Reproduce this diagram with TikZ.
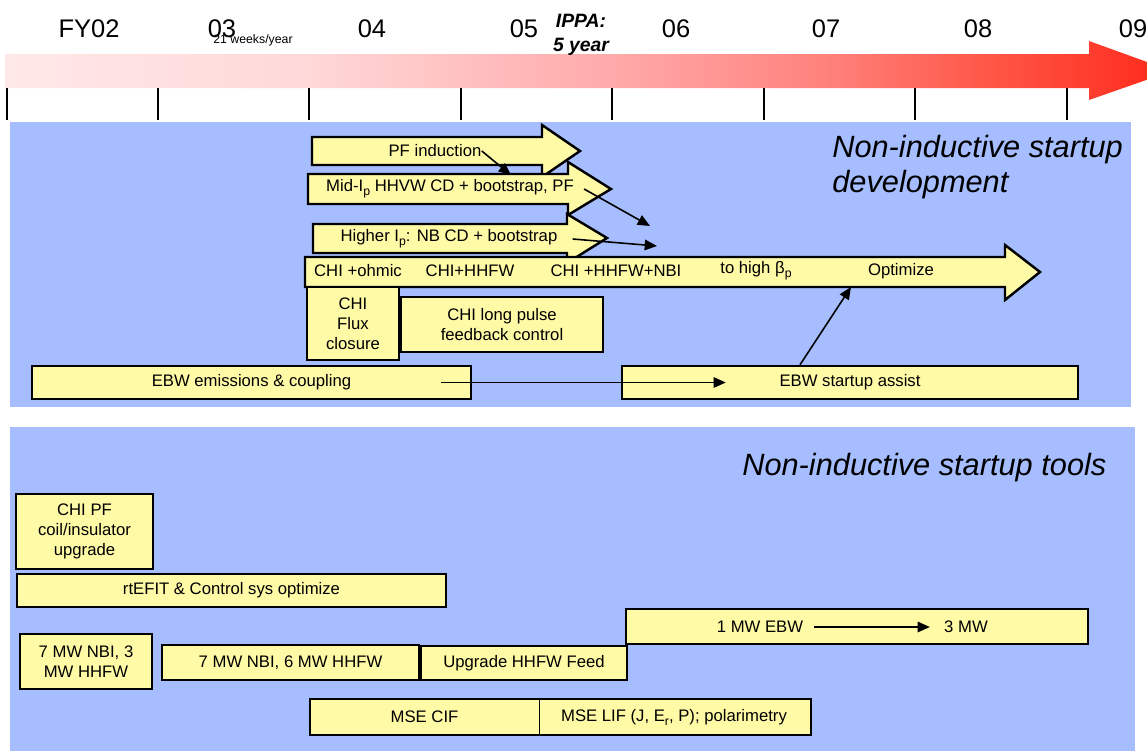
\documentclass[tikz,border=0pt]{standalone}
\usepackage{fontspec}
\setmainfont{Liberation Sans}
\usetikzlibrary{arrows.meta,positioning}
\definecolor{panelblue}{RGB}{166,190,255}
\definecolor{taskyellow}{RGB}{255,250,166}
\definecolor{tlA}{RGB}{255,232,232}
\definecolor{tlB}{RGB}{255,216,216}
\definecolor{tlC}{RGB}{255,170,170}
\definecolor{tlD}{RGB}{255,128,122}
\definecolor{tlE}{RGB}{255,88,72}
\definecolor{tlF}{RGB}{255,40,25}
\pgfdeclarehorizontalshading{timeline}{100bp}{color(0bp)=(tlA); color(25bp)=(tlA);
    color(38bp)=(tlB); color(51bp)=(tlC); color(60.5bp)=(tlD); color(67bp)=(tlE);
    color(75bp)=(tlF); color(100bp)=(tlF)}
\newcommand{\boxfont}{\fontsize{9.5}{11.3}\selectfont}
\newcommand{\lowsub}[1]{\raisebox{-0.45ex}{\fontsize{7}{7}\selectfont #1}}

\begin{document}
\begin{tikzpicture}[
    x=0.02cm, y=-0.02cm,
    task/.style={draw, line width=1.4pt, fill=taskyellow, inner sep=0pt,
        align=center, font=\boxfont},
    bigarrow/.style={draw, line width=1.4pt, fill=taskyellow, line join=miter},
    txt/.style={inner sep=0pt, font=\boxfont},
    year/.style={inner sep=0pt, font=\fontsize{14.5}{17}\selectfont},
    heading/.style={inner sep=0pt, align=left,
        font=\fontsize{17.5}{20.4}\selectfont\itshape},
    yeartick/.style={line width=1.2pt},
    link/.style={line width=0.9pt, -{Triangle[length=7pt, width=6pt]}},
]
\useasboundingbox (0,0) rectangle (1147,751);

% ===== TIMELINE =====
\shade[shading=timeline] (5,54) -- (1089,54) -- (1089,41) -- (1172,71)
    -- (1089,100) -- (1089,88) -- (5,88) -- cycle;
\foreach \tx in {7,158,309,461,612,764,915,1067}
    \draw[yeartick] (\tx,88) -- (\tx,120);

\foreach \yx/\yl in {89/FY02, 222/03, 372/04, 524/05, 676/06, 826/07, 978/08, 1133/09}
    \node[year] (y\yl) at (\yx,29) {\yl};
\node[inner sep=0pt, font=\fontsize{7}{8}\selectfont] (weeks) at (253,40) {21 weeks/year};
\node[inner sep=0pt, align=center, font=\fontsize{11}{13.6}\selectfont\bfseries\itshape]
    (ippa) at (581,35) {IPPA:\\5 year};

% ===== PANELS =====
\fill[panelblue] (10,122) rectangle (1131,407);
\fill[panelblue] (10,427) rectangle (1135,760);

% ===== NON-INDUCTIVE STARTUP DEVELOPMENT =====
\node[heading, anchor=west] (devhead) at (832,167) {Non-inductive startup\\development};

\draw[bigarrow] (312,137) -- (542,137) -- (542,125) -- (580,151) -- (542,177)
    -- (542,165) -- (312,165) -- cycle;
\node[txt] (pfind) at (435,151) {PF induction};

\draw[bigarrow] (308,174) -- (568,174) -- (568,162) -- (611,189) -- (568,215)
    -- (568,204) -- (308,204) -- cycle;
\node[txt] (midip) at (450,189) {Mid-I\lowsub{p} HHVW CD + bootstrap, PF};

\draw[bigarrow] (313,224) -- (567,224) -- (567,214) -- (607,238) -- (567,263)
    -- (567,253) -- (313,253) -- cycle;
\node[txt] (higher) at (449,239) {Higher I\lowsub{p}: NB CD + bootstrap};

\draw[bigarrow] (305,257) -- (1005,257) -- (1005,245) -- (1040,272) -- (1005,300)
    -- (1005,287) -- (305,287) -- cycle;
\node[txt] (ohmic) at (358,271) {CHI +ohmic};
\node[txt] (chihhfw) at (470,271) {CHI+HHFW};
\node[txt] (chinbi) at (616,271) {CHI +HHFW+NBI};
\node[txt] (highbeta) at (756,271) {to high β\lowsub{p}};
\node[txt] (optim) at (901,271) {Optimize};

\node[task, minimum width=1.84cm, minimum height=1.46cm] (flux) at (353,323.5)
    {CHI\\Flux\\closure};
\node[task, minimum width=4.04cm, minimum height=1.1cm] (longpulse) at (502,324.5)
    {CHI long pulse\\feedback control};
\node[task, minimum width=8.78cm, minimum height=0.66cm] (ebwemis) at (251.5,382.5)
    {EBW emissions \& coupling};
\node[task, minimum width=9.12cm, minimum height=0.66cm] (ebwassist) at (850,382.5)
    {EBW startup assist};

\coordinate (pfhit) at (511,175);
\coordinate (midhit) at (650,226);
\coordinate (highhit) at (657,246);
\coordinate (optihit) at (851,287);

\draw[link] (pfind.east) -- (pfhit);
\draw[link] ([xshift=0.2cm]midip.east) -- (midhit);
\draw[link] ([xshift=0.3cm]higher.east) -- (highhit);
\draw[link] ([xshift=-0.62cm]ebwemis.east) -- ([xshift=2.1cm]ebwassist.west);
\draw[link] ([xshift=-1cm]ebwassist.north) -- (optihit);

% ===== NON-INDUCTIVE STARTUP TOOLS =====
\node[heading, anchor=west] (toolhead) at (742,468) {Non-inductive startup tools};

\node[task, minimum width=2.74cm, minimum height=1.5cm] (chipf) at (84.5,531.5)
    {CHI PF\\coil/insulator\\upgrade};
\node[task, minimum width=8.58cm, minimum height=0.66cm] (rtefit) at (231.5,590.5)
    {rtEFIT \& Control sys optimize};
\node[task, minimum width=2.64cm, minimum height=1.1cm] (nbi3) at (86,661.5)
    {7 MW NBI, 3\\MW HHFW};
\node[task, minimum width=5.14cm, minimum height=0.7cm] (nbi6) at (290.5,662.5)
    {7 MW NBI, 6 MW HHFW};
\node[task, minimum width=4.12cm, minimum height=0.68cm] (feed) at (524,663)
    {Upgrade HHFW Feed};
\node[task, minimum width=9.24cm, minimum height=0.7cm] (ebw1) at (857,626.5) {};
\node[txt] (mw1) at (760,627) {1 MW EBW};
\node[txt] (mw3) at (966,627) {3 MW};
\draw[link] ([xshift=0.22cm]mw1.east) -- ([xshift=-0.28cm]mw3.west);

\node[task, draw=none, minimum width=4.54cm, minimum height=0.68cm] (msecif) at (424.5,717)
    {MSE CIF};
\node[task, draw=none, minimum width=5.44cm, minimum height=0.68cm] (mselif) at (674,717)
    {MSE LIF (J, E\lowsub{r}, P); polarimetry};
\draw[line width=1.4pt] (msecif.north west) rectangle (mselif.south east);
\draw[line width=0.6pt] (msecif.north east) -- (msecif.south east);

\end{tikzpicture}
\end{document}
